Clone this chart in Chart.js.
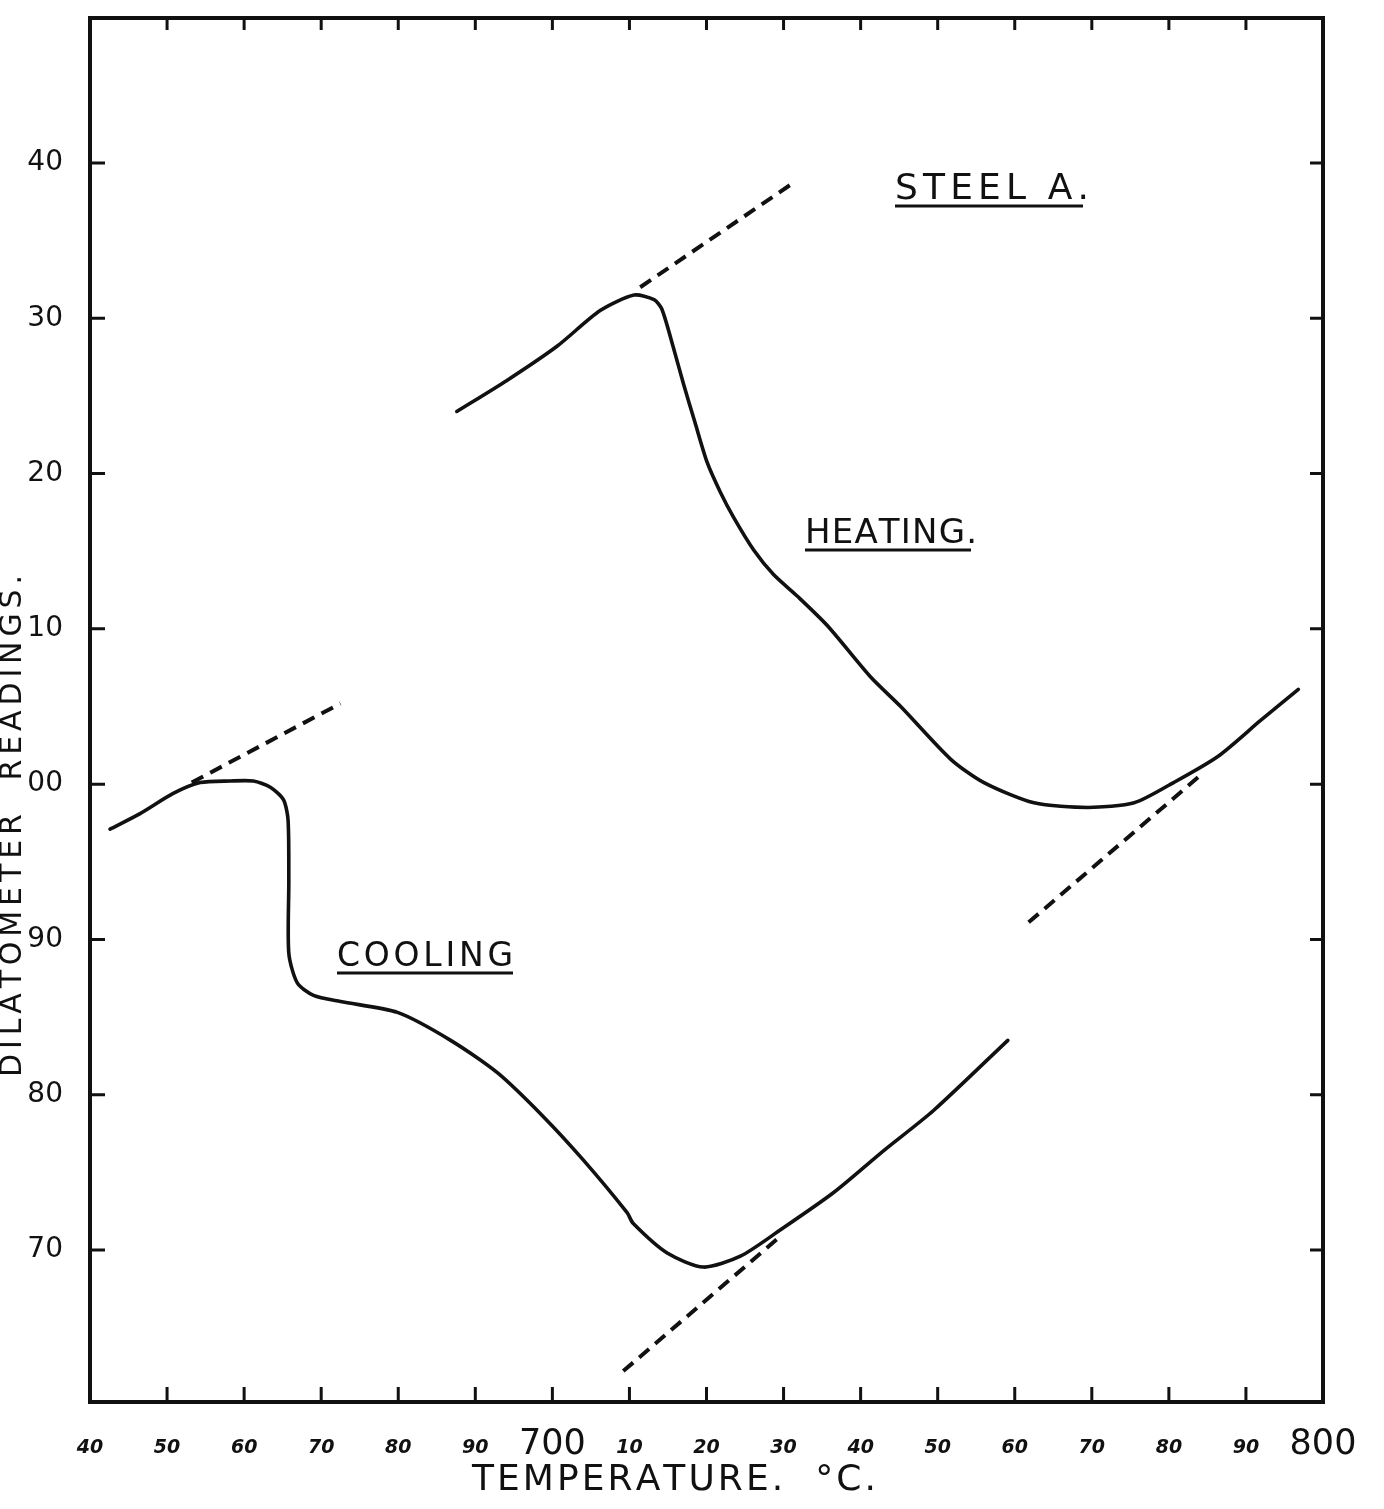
<!DOCTYPE html>
<html>
<head>
<meta charset="utf-8">
<title>Steel A - dilatometer readings</title>
<script src="https://cdn.jsdelivr.net/npm/chart.js@4.4.1/dist/chart.umd.min.js"></script>
<style>
    html, body { margin: 0; padding: 0; background: #fff; }
    #wrap { width: 1384px; height: 1509px; }
</style>
</head>
<body>
<div id="wrap"><canvas id="myChart"></canvas></div>
<script>
// temperature in degrees C; readings run past 100 on the dial (100 is printed "00")
const xTicks = [640, 650, 660, 670, 680, 690, 700, 710, 720, 730, 740, 750, 760, 770, 780, 790, 800];
const yTicks = [70, 80, 90, 100, 110, 120, 130, 140];

const heatingTemp = [687.6, 694.1, 700.6, 706.2, 710.6, 713.2, 714.2, 715.6, 717.0, 718.5, 720.1, 721.8, 723.5,
    726.1, 728.7, 731.8, 735.7, 741.3, 745.2, 751.7, 756.0, 762.5, 769.5, 775.5, 780.6, 786.4, 791.9, 796.8];
const heatingReading = [124.0, 126.0, 128.2, 130.5, 131.5, 131.2, 130.6, 128.3, 125.8, 123.3, 120.7, 118.8, 117.2,
    115.1, 113.5, 112.1, 110.2, 106.9, 105.0, 101.6, 100.1, 98.8, 98.5, 98.8, 100.1, 101.8, 104.1, 106.1];

const coolingTemp = [642.6, 646.5, 650.8, 654.3, 658.2, 661.2, 663.4, 665.1, 665.7, 665.8, 665.8, 666.9, 669.0,
    672.5, 679.9, 686.8, 692.9, 698.8, 704.0, 709.7, 710.5, 714.9, 719.6, 724.4, 729.6, 736.5, 743.0, 749.5, 759.1];
const coolingReading = [97.1, 98.1, 99.4, 100.1, 100.2, 100.2, 99.8, 99.0, 97.7, 93.8, 89.1, 87.2, 86.4,
    86.0, 85.3, 83.5, 81.4, 78.6, 75.8, 72.4, 71.7, 69.8, 68.9, 69.6, 71.3, 73.7, 76.4, 79.0, 83.5];

// dashed tangent lines, start and end of each
const tangentTemps = [[711.4, 730.9], [653.2, 672.5], [761.8, 784.4], [709.2, 729.4]];
const tangentReadings = [[132.0, 138.6], [100.1, 105.2], [91.1, 100.7], [62.2, 70.8]];

const INK = '#111';
const FONT = 'DejaVu Sans';

function toPoints(xs, ys) {
    return xs.map(function (v, i) { return { x: v, y: ys[i] }; });
}

// draw text char by char so it fills a given width (hand lettering is wide spaced)
function spaced(ctx, text, x, y, width) {
    const chars = Array.from(text);
    let w0 = 0;
    chars.forEach(function (c) { w0 += ctx.measureText(c).width; });
    const gap = (width - w0) / (chars.length - 1);
    let cx = x;
    chars.forEach(function (c) {
        ctx.fillText(c, cx, y);
        cx += ctx.measureText(c).width + gap;
    });
}

const notes = [
    { text: 'STEEL A.', x: 895, y: 199, w: 194, size: 36, line: 188 },
    { text: 'HEATING.', x: 805, y: 543, w: 172, size: 34, line: 166 },
    { text: 'COOLING', x: 337, y: 966, w: 176, size: 33, line: 176 }
];

const framePlugin = {
    id: 'frame',
    afterDraw: function (chart) {
        const ctx = chart.ctx;
        const a = chart.chartArea;
        const xs = chart.scales.x;
        const ys = chart.scales.y;
        ctx.save();
        ctx.strokeStyle = INK;
        ctx.fillStyle = INK;
        ctx.lineWidth = 4;
        ctx.strokeRect(a.left, a.top, a.right - a.left, a.bottom - a.top);

        // tick marks point inwards on all four sides
        ctx.lineWidth = 3;
        ctx.beginPath();
        xTicks.slice(1, -1).forEach(function (v) {
            const px = xs.getPixelForValue(v);
            ctx.moveTo(px, a.top); ctx.lineTo(px, a.top + 12);
            ctx.moveTo(px, a.bottom); ctx.lineTo(px, a.bottom - 15);
        });
        yTicks.forEach(function (v) {
            const py = ys.getPixelForValue(v);
            ctx.moveTo(a.left, py); ctx.lineTo(a.left + 15, py);
            ctx.moveTo(a.right, py); ctx.lineTo(a.right - 13, py);
        });
        ctx.stroke();

        // labels on the curves, underlined
        ctx.textAlign = 'left';
        ctx.textBaseline = 'alphabetic';
        notes.forEach(function (n) {
            ctx.font = n.size + 'px "' + FONT + '"';
            spaced(ctx, n.text, n.x, n.y, n.w);
            ctx.lineWidth = 3;
            ctx.beginPath();
            ctx.moveTo(n.x, n.y + 7);
            ctx.lineTo(n.x + n.line, n.y + 7);
            ctx.stroke();
        });

        // axis titles
        ctx.font = '36px "' + FONT + '"';
        spaced(ctx, 'TEMPERATURE.  \u00B0C.', 472, 1490, 404);

        ctx.translate(21, 1077);
        ctx.rotate(-Math.PI / 2);
        ctx.font = '30px "' + FONT + '"';
        spaced(ctx, 'DILATOMETER  READINGS.', 0, 0, 502);
        ctx.restore();
    }
};

function lineSet(data, dashed) {
    return {
        data: data,
        showLine: true,
        borderColor: INK,
        borderWidth: dashed ? 4 : 3.6,
        borderDash: dashed ? [13, 8] : [],
        borderCapStyle: dashed ? 'butt' : 'round',
        borderJoinStyle: 'round',
        tension: dashed ? 0 : 0.25,
        pointRadius: 0,
        fill: false
    };
}

const datasets = [
    lineSet(toPoints(heatingTemp, heatingReading), false),
    lineSet(toPoints(coolingTemp, coolingReading), false)
];
tangentTemps.forEach(function (t, i) {
    datasets.push(lineSet(toPoints(t, tangentReadings[i]), true));
});

const ctx = document.getElementById('myChart');

new Chart(ctx, {
    type: 'scatter',
    data: { datasets: datasets },
    options: {
        responsive: true,
        maintainAspectRatio: false,
        animation: false,
        layout: { padding: { top: 18, right: 61, bottom: 0, left: 0 } },
        plugins: {
            legend: { display: false },
            tooltip: { enabled: false }
        },
        scales: {
            x: {
                type: 'linear',
                min: 640,
                max: 800,
                afterBuildTicks: function (s) { s.ticks = xTicks.map(function (v) { return { value: v }; }); },
                afterFit: function (s) {
                    s.height = 107;
                    s.paddingLeft = 0;
                    s.paddingRight = 0;
                },
                grid: { display: false },
                border: { display: false },
                ticks: {
                    padding: 24,
                    color: INK,
                    autoSkip: false,
                    maxRotation: 0,
                    callback: function (v) { return v % 100 === 0 ? String(v) : String(v % 100); },
                    font: function (c) {
                        if (c.tick && c.tick.value % 100 === 0) {
                            return { family: FONT, size: 35, lineHeight: 0.6 };
                        }
                        return { family: FONT, size: 19, style: 'italic', weight: 'bold', lineHeight: 1.5 };
                    }
                }
            },
            y: {
                type: 'linear',
                min: 60.21,
                max: 149.34,
                afterBuildTicks: function (s) { s.ticks = yTicks.map(function (v) { return { value: v }; }); },
                afterFit: function (s) {
                    s.width = 90;
                    s.paddingTop = 0;
                    s.paddingBottom = 0;
                },
                grid: { display: false },
                border: { display: false },
                ticks: {
                    padding: 19,
                    color: INK,
                    font: { family: FONT, size: 28 },
                    callback: function (v) { return String(v % 100).padStart(2, '0'); }
                }
            }
        }
    },
    plugins: [framePlugin]
});
</script>
</body>
</html>
